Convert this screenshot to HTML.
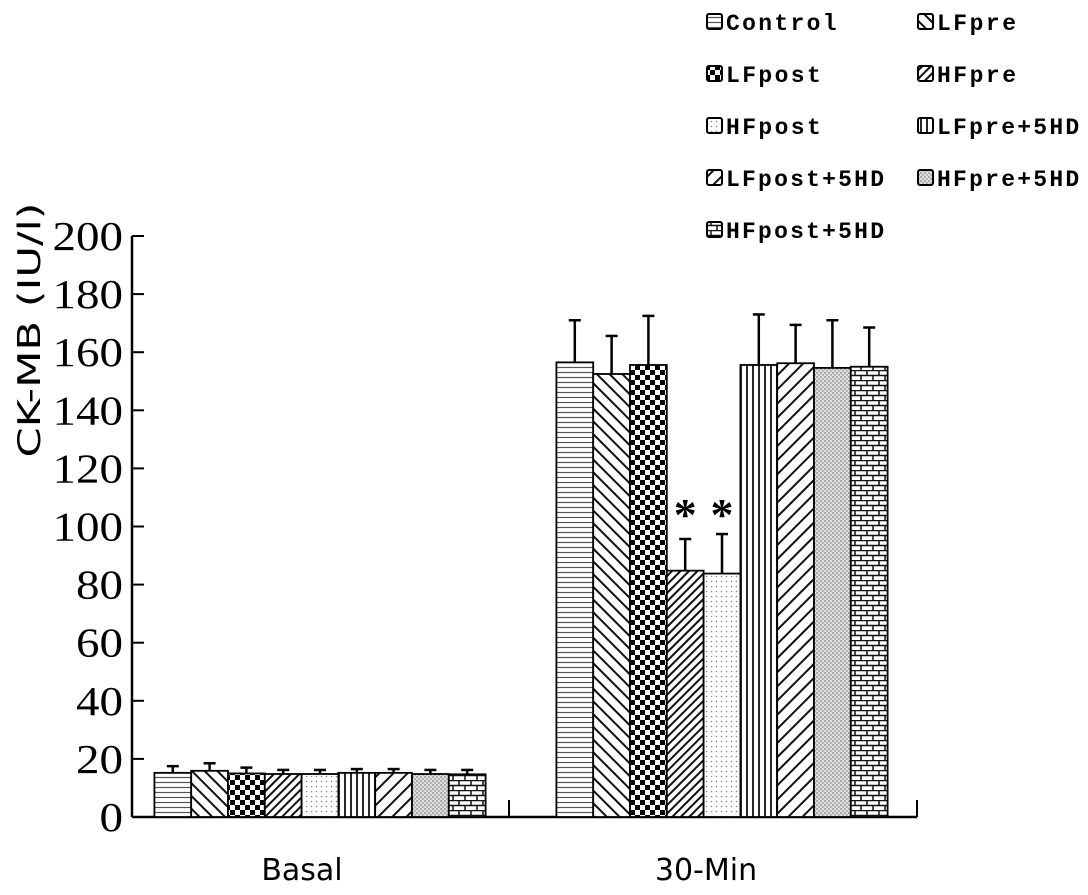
<!DOCTYPE html>
<html><head><meta charset="utf-8"><style>
body{margin:0;background:#fff;}
svg text{font-family:"Liberation Serif",serif;}
</style></head><body>
<svg width="1088" height="890" xmlns="http://www.w3.org/2000/svg">
<defs>
<pattern id="p0" width="6" height="5" patternUnits="userSpaceOnUse"><rect width="6" height="5" fill="#fff"/><line x1="0" y1="2.5" x2="6" y2="2.5" stroke="#555" stroke-width="1.2"/></pattern>
<pattern id="p1" width="9" height="9" patternUnits="userSpaceOnUse" patternTransform="rotate(-45)"><rect width="9" height="9" fill="#fff"/><line x1="4.5" y1="0" x2="4.5" y2="9" stroke="#111" stroke-width="2"/></pattern>
<pattern id="p2" width="10" height="10" patternUnits="userSpaceOnUse"><rect width="10" height="10" fill="#fff"/><rect width="5" height="5" fill="#000"/><rect x="5" y="5" width="5" height="5" fill="#000"/></pattern>
<pattern id="p3" width="6" height="6" patternUnits="userSpaceOnUse" patternTransform="rotate(45)"><rect width="6" height="6" fill="#fff"/><line x1="3" y1="0" x2="3" y2="6" stroke="#111" stroke-width="2"/></pattern>
<pattern id="p4" width="5" height="5" patternUnits="userSpaceOnUse"><rect width="5" height="5" fill="#fff"/><circle cx="1.5" cy="1.5" r="0.8" fill="#888"/></pattern>
<pattern id="p5" width="6" height="6" patternUnits="userSpaceOnUse"><rect width="6" height="6" fill="#fff"/><line x1="3" y1="0" x2="3" y2="6" stroke="#111" stroke-width="1.8"/></pattern>
<pattern id="p6" width="10" height="10" patternUnits="userSpaceOnUse" patternTransform="rotate(45)"><rect width="10" height="10" fill="#fff"/><line x1="5" y1="0" x2="5" y2="10" stroke="#111" stroke-width="2"/></pattern>
<pattern id="p7" width="4" height="4" patternUnits="userSpaceOnUse"><rect width="4" height="4" fill="#ddd"/><circle cx="1" cy="1" r="0.9" fill="#888"/><circle cx="3" cy="3" r="0.9" fill="#999"/></pattern>
<pattern id="p8" width="12" height="10" patternUnits="userSpaceOnUse"><rect width="12" height="10" fill="#fff"/><line x1="0" y1="0.5" x2="12" y2="0.5" stroke="#111" stroke-width="1.5"/><line x1="0" y1="5.5" x2="12" y2="5.5" stroke="#111" stroke-width="1.5"/><line x1="3" y1="0" x2="3" y2="5" stroke="#111" stroke-width="1.5"/><line x1="9" y1="5" x2="9" y2="10" stroke="#111" stroke-width="1.5"/></pattern>
</defs>
<g id="axes"></g>
<g id="bars"></g>
<g id="legend"></g>
</svg>
<script>
const categories = ["Basal","30-Min"];
const seriesNames = ["Control","LFpre","LFpost","HFpre","HFpost","LFpre+5HD","LFpost+5HD","HFpre+5HD","HFpost+5HD"];
const basalValues = [15.2,15.9,15.0,14.8,14.8,15.2,15.2,14.8,14.7];
const basalErrors = [17.5,18.5,17.0,16.2,16.2,16.5,16.5,16.2,16.2];
const minValues = [156.5,152.5,155.6,84.8,83.8,155.6,156.2,154.6,155.0];
const minErrors = [171,165.6,172.5,95.7,97.4,173,169.4,171,168.5];
const yTicks = [0,20,40,60,80,100,120,140,160,180,200];
const starred = [3,4];

const NS="http://www.w3.org/2000/svg";
const X0=132, X1=917, Y0=817, YT=236;
const y = v => Y0 - (v/200)*(Y0-YT);
const catCenter = i => [320,722][i];
const labelCenter = i => [302,706][i];
const BW=36.8;
const barX = (c,s) => catCenter(c) - BW*9/2 + s*BW;
function mk(parent,tag,attrs){const e=document.createElementNS(NS,tag);for(const k in attrs)e.setAttribute(k,attrs[k]);parent.appendChild(e);return e;}

const axes=document.getElementById('axes');
let a=mk(axes,'line',{x1:X0,y1:YT,x2:X0,y2:Y0,stroke:'#000','stroke-width':2.5});


a=mk(axes,'line',{x1:X0,y1:Y0,x2:X1,y2:Y0,stroke:'#000','stroke-width':2.5});


[509,917].forEach(tx=>{const t=mk(axes,'line',{x1:tx,y1:Y0,x2:tx,y2:Y0-17,stroke:'#000','stroke-width':2});

});
yTicks.forEach(v=>{
 const t=mk(axes,'line',{x1:X0,y1:y(v),x2:X0+12,y2:y(v),stroke:'#000','stroke-width':2});
 
 
 const s=String(v);
 const l=mk(axes,'text',{x:123,y:y(v)+14,'text-anchor':'end','font-size':41,textLength:s.length*23.5,lengthAdjust:'spacingAndGlyphs'});
 l.textContent=s;
 
 
});
let yt=mk(axes,'text',{x:0,y:0,transform:'translate(40,330) rotate(-90)','text-anchor':'middle','font-size':31,textLength:255,lengthAdjust:'spacingAndGlyphs',style:'font-family:"DejaVu Sans","Liberation Sans",sans-serif'});
yt.textContent='CK-MB (IU/l)';


categories.forEach((c,i)=>{const t=mk(axes,'text',{x:labelCenter(i),y:880,'text-anchor':'middle','font-size':30,style:'font-family:"DejaVu Sans","Liberation Sans",sans-serif'});
t.textContent=c;

});

const bars=document.getElementById('bars');
[[basalValues,basalErrors],[minValues,minErrors]].forEach(([vals,errs],c)=>{
 vals.forEach((v,s)=>{
  const x=barX(c,s), cx=x+BW/2;
  const el=mk(bars,'line',{x1:cx,y1:y(v),x2:cx,y2:y(errs[s]),stroke:'#000','stroke-width':2.5});
  
  
  const cap=mk(bars,'line',{x1:cx-6,y1:y(errs[s]),x2:cx+6,y2:y(errs[s]),stroke:'#000','stroke-width':2.5});
  
  
  const r=mk(bars,'rect',{x:x,y:y(v),width:BW,height:Y0-y(v),fill:'url(#p'+s+')',stroke:'#000','stroke-width':1.8});
  
  
  if(c===1 && starred.includes(s)){
   const topErr=Math.max(...starred.map(k=>errs[k]));
   const st=mk(bars,'text',{x:cx,y:y(topErr)-4,'text-anchor':'middle','font-size':46,'font-weight':'bold','font-family':'Liberation Sans'});
   st.textContent='*';
   
   
  }
 });
});

const legend=document.getElementById('legend');
seriesNames.forEach((lb,i)=>{
 const col=i%2, row=Math.floor(i/2);
 const lx=707+col*211, ly=22+row*52;
 const g=mk(legend,'g',{});
 
 
 mk(g,'rect',{x:lx,y:ly-8,width:15,height:15,rx:2,fill:'url(#p'+i+')',stroke:'#000','stroke-width':2});
 const t=mk(g,'text',{x:lx+19,y:ly+8,'font-size':23,'font-weight':'bold',textLength:lb.length*15.8,lengthAdjust:'spacing',style:'font-family:"Liberation Mono",monospace'});
 t.textContent=lb;
});
</script>
</body></html>
